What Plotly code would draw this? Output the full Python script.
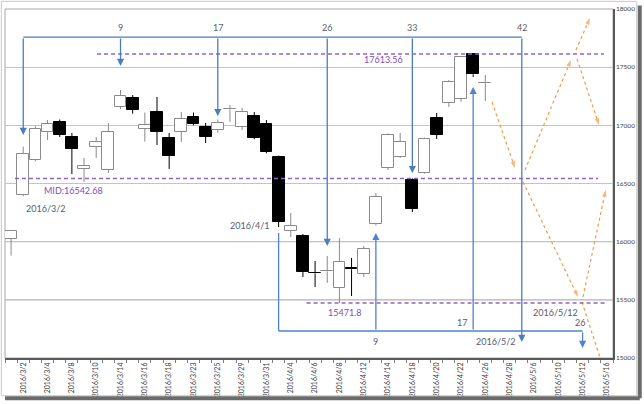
import plotly.graph_objects as go

# ---------------- data ----------------
dates = ["2016/3/1", "2016/3/2", "2016/3/3", "2016/3/4", "2016/3/7", "2016/3/8", "2016/3/9", "2016/3/10",
         "2016/3/11", "2016/3/14", "2016/3/15", "2016/3/16", "2016/3/17", "2016/3/18", "2016/3/22",
         "2016/3/23", "2016/3/24", "2016/3/25", "2016/3/28", "2016/3/29", "2016/3/30", "2016/3/31",
         "2016/4/1", "2016/4/4", "2016/4/5", "2016/4/6", "2016/4/7", "2016/4/8", "2016/4/11",
         "2016/4/12", "2016/4/13", "2016/4/14", "2016/4/15", "2016/4/18", "2016/4/19", "2016/4/20",
         "2016/4/21", "2016/4/22", "2016/4/25", "2016/4/26", "2016/4/27", "2016/4/28", "2016/5/2",
         "2016/5/6", "2016/5/9", "2016/5/10", "2016/5/11", "2016/5/12", "2016/5/13", "2016/5/16"]

opens = [16023, 16401, 16702, 16940, 17029, 16900, 16625, 16814, 16616, 17157,
         17235, 16970, 17115, 16891, 16943, 17072, 16986, 16960, 17138, 16986,
         17080, 17011, 16728, 16092, 16049, 15735, 15745, 15602, 15770, 15722,
         16152, 16633, 16728, 16530, 16590, 17063, 17192, 17226, 17613.56, 17362]
highs = [16100, 16816, 16995, 17046, 17050, 16934, 16719, 16900, 17020, 17304,
         17260, 17110, 17244, 16934, 17115, 17110, 17020, 17050, 17175, 17149,
         17115, 17046, 16740, 16246, 16066, 15834, 15877, 16031, 15860, 15963,
         16418, 16930, 16934, 16545, 16895, 17106, 17390, 17590, 17613.56, 17433]
lows = [15880, 16390, 16690, 16874, 16900, 16581, 16513, 16719, 16590, 17140,
        17100, 16860, 16831, 16625, 16857, 17000, 16848, 16935, 17030, 16960,
        16880, 16760, 16126, 16040, 15696, 15610, 15645, 15471.8, 15533, 15696,
        16140, 16616, 16720, 16255, 16585, 16883, 17158, 17200, 17415, 17209]
closes = [16092, 16754, 16969, 17015, 16917, 16797, 16650, 16857, 16943, 17252,
          17132, 17000, 16943, 16736, 17054, 17011, 16900, 17020, 17142, 17115,
          16891, 16771, 16169, 16135, 15739, 15728, 15750, 15825, 15763, 15937,
          16384, 16917, 16857, 16281, 16883, 16917, 17373, 17587, 17439, 17366]

high_level = 17613.56
mid_level = 16542.68
low_level = 15471.8

# count-arrows from the top bracket (index, arrow tip value)
top_idx = [1, 9, 17, 26, 33, 42]
top_tip = [16917, 17510, 17080, 15963, 16590, 15138]
top_labels = ["", "9", "17", "26", "33", "42"]
top_bracket = 17759
top_label_y = 17845

# count-arrows from the bottom bracket
bot_idx = [22, 30, 38, 47]
bot_tip = [16075, 16075, 17330, 15086]
bot_bracket = 15232

# projected zig-zag (x0, y0, x1, y1)
proj = [(39.55, 17200, 41.44, 16633),
        (42.26, 16616, 46.05, 17562),
        (46.46, 17648, 47.60, 17923),
        (46.54, 17570, 48.35, 17003),
        (42.10, 16513, 46.62, 15524),
        (47.03, 15524, 48.90, 16444),
        (46.95, 15481, 48.84, 14871)]

# text notes (text, index, value, colour key)
notes = [("MID:16542.68", 5.1, 16444, "p"), ("17613.56", 30.6, 17570, "p"),
         ("15471.8", 27.46, 15387, "p"), ("2016/3/2", 2.8, 16289, "g"),
         ("2016/4/1", 19.6, 16143, "g"), ("2016/5/2", 39.8, 15138, "g"),
         ("2016/5/12", 44.8, 15387, "g"), ("9", 30, 15146, "g"),
         ("17", 37.1, 15301, "g"), ("26", 46.8, 15301, "g")]

# ---------------- figure ----------------
FONT = "Lato"
PURPLE_LINE = "#9063c9"
PURPLE_TXT = "#7d4fb8"
GRAY_TXT = "#56606e"
BLUE = "#4a7dbd"
ORANGE = "#f79646"
UP_LINE = "#8a8a8a"

idx = list(range(len(opens)))
fig = go.Figure()

# wicks (split above / below the body so they never cross a body)
for is_up, col in [(True, UP_LINE), (False, "black")]:
    wx, wy = [], []
    for i, o, h, l, c in zip(idx, opens, highs, lows, closes):
        if (c >= o) != is_up:
            continue
        top, bot = max(o, c), min(o, c)
        if h > top:
            wx += [i, i, None]; wy += [h, top, None]
        if l < bot:
            wx += [i, i, None]; wy += [bot, l, None]
    fig.add_trace(go.Scatter(x=wx, y=wy, mode="lines", line=dict(color=col, width=1),
                             showlegend=False, hoverinfo="skip"))

# bodies
body_base = [min(o, c) for o, c in zip(opens, closes)]
body_h = [max(abs(c - o), 5) for o, c in zip(opens, closes)]
body_fill = ["white" if c >= o else "black" for o, c in zip(opens, closes)]
body_line = [UP_LINE if c >= o else "black" for o, c in zip(opens, closes)]
fig.add_trace(go.Bar(x=idx, y=body_h, base=body_base, width=0.97,
                     marker=dict(color=body_fill, line=dict(color=body_line, width=1)),
                     showlegend=False, hoverinfo="skip"))

shapes = []
# plot frame (left/top light)
shapes.append(dict(type="rect", xref="paper", yref="paper", x0=0, y0=0, x1=1, y1=1,
                   line=dict(color="#a6a6a6", width=1), layer="below"))
# darker grid lines at 16000 / 15500
for gy in [16000, 15500]:
    shapes.append(dict(type="line", xref="paper", yref="y", x0=0, x1=1, y0=gy, y1=gy,
                       line=dict(color="#8c8c8c", width=1), layer="below"))
# outer frame + shadow
shapes.append(dict(type="rect", xref="paper", yref="paper", x0=-0.006, y0=-0.108, x1=1.039, y1=1.022,
                   line=dict(color="#c8c8c8", width=1)))
shapes.append(dict(type="line", xref="paper", yref="paper", x0=1.044, y0=1.01, x1=1.044, y1=-0.115,
                   line=dict(color="#6b6b6b", width=4)))
shapes.append(dict(type="line", xref="paper", yref="paper", x0=0.0, y0=-0.115, x1=1.044, y1=-0.115,
                   line=dict(color="#6b6b6b", width=4)))

# purple dashed levels
for y, x0, x1 in [(high_level, 7.07, 48.76), (mid_level, 0.32, 48.27), (low_level, 24.3, 48.84)]:
    shapes.append(dict(type="line", x0=x0, x1=x1, y0=y, y1=y,
                       line=dict(color=PURPLE_LINE, width=1.5, dash="4px,3px")))

# brackets
shapes.append(dict(type="line", x0=top_idx[0], x1=top_idx[-1], y0=top_bracket, y1=top_bracket,
                   line=dict(color=BLUE, width=1.3)))
shapes.append(dict(type="line", x0=bot_idx[0], x1=bot_idx[-1], y0=bot_bracket, y1=bot_bracket,
                   line=dict(color="#4f83d1", width=1.3)))
# 4/1 plain vertical
shapes.append(dict(type="line", x0=bot_idx[0], x1=bot_idx[0], y0=bot_bracket, y1=bot_tip[0],
                   line=dict(color="#4f83d1", width=1.3)))

annotations = []
for i, t, lab in zip(top_idx, top_tip, top_labels):
    annotations.append(dict(x=i, y=t, ax=i, ay=top_bracket, xref="x", yref="y", axref="x", ayref="y",
                            showarrow=True, arrowhead=2, arrowsize=1.1, arrowwidth=1.3,
                            arrowcolor=BLUE, text=""))
    if lab:
        annotations.append(dict(x=i, y=top_label_y, text=lab, showarrow=False,
                                font=dict(family=FONT, size=9, color=GRAY_TXT)))
for i, t in zip(bot_idx[1:], bot_tip[1:]):
    annotations.append(dict(x=i, y=t, ax=i, ay=bot_bracket, xref="x", yref="y", axref="x", ayref="y",
                            showarrow=True, arrowhead=2, arrowsize=1.1, arrowwidth=1.3,
                            arrowcolor="#4f83d1", text=""))
for txt, x, y, c in notes:
    annotations.append(dict(x=x, y=y, text=txt, showarrow=False,
                            font=dict(family=FONT, size=9, color=PURPLE_TXT if c == "p" else GRAY_TXT)))

# projection arrows
for x0, y0, x1, y1 in proj:
    fig.add_trace(go.Scatter(
        x=[x0, x1], y=[y0, y1], mode="lines+markers",
        line=dict(color=ORANGE, width=1.2, dash="dot"),
        marker=dict(symbol=["circle", "arrow"], size=[0, 7], color=ORANGE, angleref="previous",
                    line=dict(width=0)),
        cliponaxis=False, showlegend=False, hoverinfo="skip"))

fig.update_layout(
    width=644, height=404,
    margin=dict(l=5, r=31, t=9, b=46),
    paper_bgcolor="white", plot_bgcolor="white",
    shapes=shapes, annotations=annotations,
    bargap=0,
    font=dict(family=FONT, color="#404040"),
    xaxis=dict(range=[-0.5, 49.5], tickmode="array",
               tickvals=list(range(1, 50, 2)), ticktext=dates[1::2],
               tickangle=-90, tickfont=dict(size=7, color="#404040"),
               ticks="", showgrid=False, zeroline=False,
               showline=True, linecolor="#595959", linewidth=1.5,
               minor=dict(tickmode="array", tickvals=[i - 0.5 for i in range(51)],
                          ticks="outside", ticklen=3, tickcolor="#7f7f7f", showgrid=False)),
    yaxis=dict(range=[15000, 18000], side="right", tickmode="array",
               tickvals=[15000, 15500, 16000, 16500, 17000, 17500, 18000],
               ticktext=["15000", "15500", "16000", "16500", "17000", "17500", "18000"],
               tickfont=dict(size=6.5, color="#404040"), ticks="",
               showgrid=True, gridcolor="#c4c4c4", gridwidth=1, zeroline=False,
               showline=True, linecolor="#595959", linewidth=1.5),
)

fig.write_html("out.html")
